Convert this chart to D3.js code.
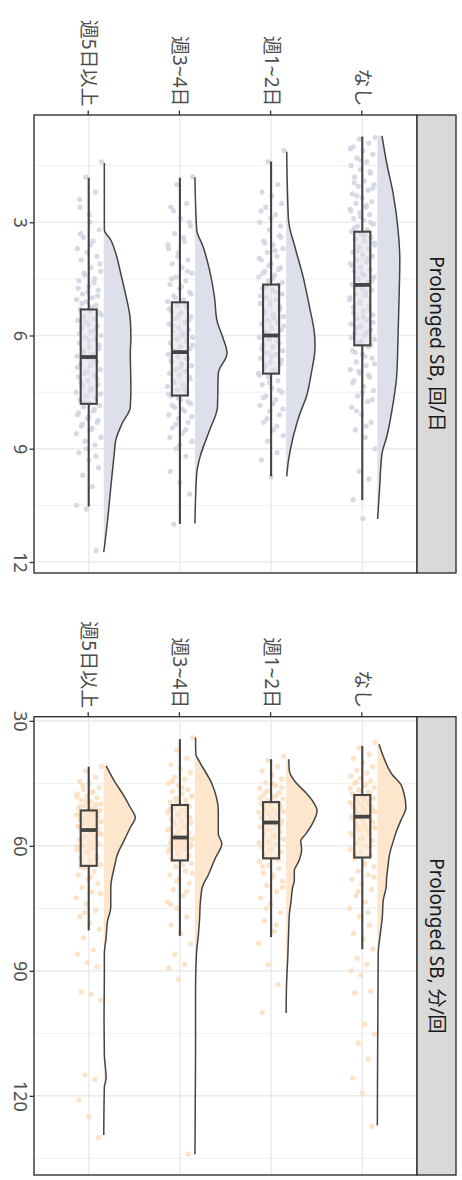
<!DOCTYPE html>
<html>
<head>
<meta charset="utf-8">
<script src="https://cdn.jsdelivr.net/npm/d3@7"></script>
<style>
  body { margin: 0; background: #fff; }
  svg { display: block; }
  text { font-family: "Noto Sans", "Noto Sans CJK JP", sans-serif; }
</style>
</head>
<body>
<script>
// ---- data -------------------------------------------------------------
const categories = ["なし", "週1~2日", "週3~4日", "週5日以上"];
const panelTitles = ["Prolonged SB, 回/日", "Prolonged SB, 分/回"];
const ticks1 = [3, 6, 9, 12];
const ticks2 = [30, 60, 90, 120];

// box statistics per category: [lower whisker, Q1, median, Q3, upper whisker]
const box1 = [
  [0.73, 3.25, 4.66, 6.26, 10.36],
  [1.39, 4.65, 6.00, 7.01, 9.73],
  [1.82, 5.12, 6.44, 7.59, 10.99],
  [1.82, 5.31, 6.57, 7.81, 10.53]
];
const box2 = [
  [36.0, 47.8, 53.0, 62.8, 84.8],
  [39.2, 49.5, 54.4, 63.0, 81.9],
  [34.4, 50.2, 58.0, 63.5, 81.6],
  [41.0, 51.5, 56.2, 64.8, 80.3]
];

// half-violin outlines: [value, relative density]
const dens1 = [
  [[0.71,0.16],[1.43,0.32],[2.23,0.54],[3.2,0.71],[4.0,0.77],[5.15,0.74],[6.04,0.71],[7.1,0.66],[7.8,0.54],[8.69,0.32],[9.13,0.16],[10.02,0.08],[10.86,0.01]],
  [[1.13,0.02],[2.94,0.08],[3.65,0.3],[4.44,0.58],[5.24,0.8],[5.95,0.97],[6.3,0.99],[7.01,0.86],[7.63,0.69],[8.07,0.47],[8.69,0.24],[9.31,0.08],[9.73,0.02]],
  [[1.81,0.0],[3.2,0.06],[3.65,0.28],[4.27,0.5],[4.98,0.67],[5.59,0.75],[6.04,0.95],[6.47,1.1],[7.0,0.8],[7.9,0.77],[8.51,0.5],[9.23,0.17],[9.65,0.06],[10.98,0.0]],
  [[1.43,0.02],[3.2,0.02],[3.47,0.24],[3.82,0.41],[4.35,0.58],[4.88,0.74],[5.59,0.91],[6.05,0.93],[6.47,0.91],[7.37,0.93],[7.9,0.91],[8.33,0.63],[8.78,0.41],[9.12,0.36],[10.03,0.24],[10.9,0.13],[11.74,0.0]]
];
const dens2 = [
  [[35.6,0.06],[38.8,0.22],[42.8,0.5],[45.2,0.8],[47.6,0.92],[50.8,0.98],[54.0,0.8],[56.4,0.66],[58.8,0.55],[62.0,0.42],[65.2,0.36],[67.6,0.32],[70,0.3],[73.2,0.2],[77.2,0.17],[81.2,0.1],[86.0,0.03],[110,0.01],[127.1,0.0]],
  [[39.2,0.09],[42.0,0.11],[44.8,0.33],[47.2,0.67],[49.6,0.94],[51.6,1.06],[54.8,0.89],[57.2,0.67],[58.8,0.5],[60.8,0.53],[63.6,0.44],[66.0,0.28],[68.4,0.28],[70.0,0.22],[73.2,0.17],[76.4,0.11],[79.7,0.09],[86.0,0.06],[94.1,0.01],[100.1,0.0]],
  [[34.0,0.02],[38.0,0.03],[39.6,0.14],[45.1,0.58],[51.6,0.8],[57.1,0.8],[59.5,0.92],[62.9,0.7],[66.8,0.47],[70.0,0.25],[74.0,0.18],[77.3,0.16],[81.2,0.12],[86,0.05],[95,0.02],[110,0.02],[134,0.0]],
  [[40.8,0.08],[44.4,0.36],[48.0,0.69],[50.8,0.91],[53.2,1.08],[55.6,0.91],[58.8,0.69],[62.0,0.47],[65.2,0.36],[70.0,0.24],[74.8,0.24],[78.0,0.13],[82.1,0.08],[86.0,0.02],[90.8,0.02],[102,0.01],[110,0.02],[115.7,0.08],[118,0.02],[129.4,0.0]]
];

// individual observations
const pts1 = [
  [0.75,0.8,0.9,1.0,1.1,1.2,1.3,1.4,1.5,1.6,1.7,1.8,1.9,2.0,2.05,2.15,2.25,2.35,2.45,2.5,2.6,2.65,2.75,2.8,2.9,2.95,3.05,3.1,3.2,3.25,3.3,3.4,3.45,3.5,3.6,3.65,3.7,3.8,3.85,3.9,4.0,4.05,4.1,4.2,4.25,4.3,4.4,4.45,4.5,4.6,4.65,4.75,4.8,4.9,4.95,5.05,5.1,5.2,5.25,5.35,5.45,5.55,5.6,5.7,5.75,5.85,5.95,6.0,6.1,6.2,6.3,6.4,6.5,6.6,6.7,6.8,6.9,7.0,7.1,7.2,7.35,7.45,7.6,7.75,7.9,8.1,8.3,8.5,8.7,9.0,9.6,9.8,10.35,10.85,
   2.1,2.3,2.55,2.7,2.85,3.0,3.15,3.35,3.55,3.75,3.95,4.15,4.35,4.55,4.7,4.85,5.0,5.15,5.3,5.4,5.5,5.65,5.8,5.9,6.05,6.15,6.25,6.45,6.55,6.75,6.95,7.05,7.25,7.5,7.7,8.0,8.4,1.05,1.35,1.65,1.95],
  [1.1,1.4,2.0,2.2,2.3,2.5,2.6,2.8,3.0,3.2,3.35,3.5,3.6,3.7,3.8,3.9,4.0,4.1,4.2,4.3,4.4,4.45,4.55,4.65,4.75,4.8,4.9,5.0,5.05,5.15,5.2,5.3,5.4,5.45,5.5,5.6,5.65,5.7,5.8,5.85,5.9,6.0,6.05,6.1,6.2,6.25,6.3,6.4,6.45,6.5,6.6,6.7,6.75,6.85,6.9,7.0,7.1,7.2,7.3,7.4,7.5,7.6,7.7,7.85,8.0,8.1,8.3,8.5,8.65,8.8,9.1,9.3,9.75,
   3.4,3.55,3.75,3.95,4.15,4.25,4.35,4.5,4.6,4.7,4.85,4.95,5.1,5.25,5.35,5.55,5.75,5.95,6.15,6.35,6.55,6.65,6.8,6.95,7.05,7.25,7.45,7.65,7.8,7.95,8.2,8.4,2.7,2.9,3.1],
  [1.8,2.0,2.5,2.6,2.9,3.1,3.3,3.5,3.7,3.8,4.0,4.1,4.2,4.35,4.45,4.55,4.65,4.75,4.85,4.95,5.05,5.1,5.2,5.25,5.35,5.4,5.5,5.55,5.65,5.7,5.8,5.85,5.9,6.0,6.05,6.1,6.15,6.2,6.3,6.35,6.4,6.45,6.5,6.55,6.6,6.7,6.75,6.8,6.9,6.95,7.0,7.05,7.1,7.2,7.3,7.35,7.45,7.5,7.6,7.7,7.8,7.9,8.0,8.1,8.2,8.3,8.45,8.6,8.8,9.0,9.2,9.6,9.9,10.2,11.0,
   3.4,3.6,3.9,4.3,4.5,4.7,4.9,5.0,5.15,5.3,5.45,5.6,5.75,5.95,6.25,6.4,6.6,6.65,6.85,7.15,7.25,7.4,7.55,7.65,7.75,7.85,7.95,8.15,8.35,8.5,8.7,8.9,3.0,2.7],
  [1.4,1.8,2.2,2.4,2.8,3.2,3.4,3.5,3.7,3.8,3.9,4.0,4.2,4.3,4.4,4.5,4.55,4.7,4.8,4.9,5.0,5.05,5.1,5.2,5.3,5.35,5.4,5.5,5.55,5.6,5.7,5.75,5.8,5.9,6.0,6.05,6.1,6.2,6.3,6.35,6.4,6.5,6.55,6.6,6.7,6.75,6.8,6.9,7.0,7.05,7.1,7.2,7.3,7.35,7.4,7.5,7.6,7.65,7.7,7.8,7.85,7.9,8.0,8.1,8.2,8.3,8.4,8.5,8.7,8.8,8.9,9.1,9.3,9.5,9.7,10.0,10.5,10.6,11.7,
   3.3,3.6,4.1,4.35,4.6,4.75,4.85,4.95,5.15,5.25,5.45,5.65,5.85,5.95,6.15,6.25,6.45,6.65,6.85,6.95,7.15,7.25,7.45,7.55,7.75,7.95,8.05,8.15,8.25,8.35,8.45,8.6,9.0,9.2,2.6,3.0]
];
const pts2 = [
  [35.2,36.5,38,39,40,41,41.8,42.5,43.2,43.8,44.4,45,45.5,46,46.5,47,47.5,48,48.4,48.8,49.2,49.6,50,50.4,50.8,51.2,51.6,52,52.5,53,53.5,54,54.5,55,55.6,56.2,56.8,57.4,58,58.7,59.4,60.1,60.8,61.5,62.3,63.1,64,65,66,67,68,69.2,70.5,72,73.5,75,77,79,81,82.4,84.8,87,88.5,90,91,94.9,95.3,102.8,105.2,107.3,111.2,115.7,119.3,127.3,
   44.7,45.2,46.2,46.8,47.2,47.8,48.2,48.6,49,49.4,49.8,50.2,50.6,51,51.4,51.8,52.2,52.8,53.3,53.8,54.3,55.3,56,57,58.3,60,62,64.5,67.5,71,76],
  [38.5,39.5,41,42,43,44,44.8,45.5,46.2,46.8,47.3,47.8,48.3,48.7,49.1,49.5,49.9,50.3,50.7,51.1,51.5,51.9,52.3,52.7,53.1,53.5,54,54.5,55,55.5,56,56.6,57.2,57.8,58.4,59,59.6,60.2,60.8,61.5,62.2,63,63.8,64.6,65.5,66.5,67.5,68.5,69.5,71,72.5,74,76,78,80.5,83.5,88.5,93.3,100,
   45,46,47,48,48.5,49.3,50,50.5,51.3,51.7,52.1,52.5,53.3,53.8,54.8,56.3,57.5,59.3,61,63.4,65,67,70,75,79],
  [34,37,39,40.5,41.5,42.5,43.5,44,45,45.5,46.5,47,47.5,48,48.5,49,49.5,50,50.5,51,51.5,52,52.5,53,53.5,54,54.5,55,55.5,56,56.5,57,57.5,58,58.3,58.7,59,59.4,59.8,60.2,60.6,61,61.5,62,62.5,63,63.5,64.2,65,66,67,68,69,70.5,72,73.5,75,77,79,81,83.5,86,88.5,89.3,92,134,
   44.5,46,48.2,49.2,50.2,51.2,52.2,53.2,54.2,55.2,56.2,57.2,58.1,58.5,59.2,59.6,60,60.4,60.8,61.3,62.3,63.2,64.6,66.5,68.5,71,74],
  [41,42,43.5,44.5,45,46,46.5,47,47.5,48,48.5,49,49.5,50,50.3,50.7,51,51.3,51.7,52,52.3,52.6,53,53.3,53.6,54,54.3,54.6,55,55.3,55.7,56,56.4,56.8,57.2,57.6,58,58.5,59,59.5,60,60.5,61,61.7,62.3,63,63.7,64.5,65.3,66.2,67,68,69,70,71,72.5,74,75.5,77,78.5,80,82,85,86,88,89,95,95.6,97,115,116,121,125,130,
   45.5,47.2,48.2,49.2,50.1,50.5,50.9,51.5,51.9,52.1,52.5,52.8,53.1,53.5,53.8,54.1,54.5,54.8,55.5,56.2,57,58.2,59.2,60.2,61.4,63.3,65,67.5,71.5,76]
];

// ---- layout (drawn on a 1180 x 462 canvas, then turned a quarter clockwise)
const W = 1180, H = 462;
const panelV = [45, 428];          // panel extent across the categories
const stripV = [6, 45];            // facet strip
const panelU = [[115, 573], [716.7, 1175]];
const INK = "#444444", BORDER = "#333333", GRID = "#ebebeb";

const panels = [
  { title: panelTitles[0], ticks: ticks1, box: box1, dens: dens1, pts: pts1,
    fill: "#dde0ea", point: "#d3d6e3" },
  { title: panelTitles[1], ticks: ticks2, box: box2, dens: dens2, pts: pts2,
    fill: "#fde6cc", point: "#fcdfc0" }
];

const svg = d3.select("body").append("svg")
  .attr("width", H).attr("height", W);
const root = svg.append("g").attr("transform", `translate(${H},0) rotate(90)`);

const y = d3.scalePoint().domain(categories).range(panelV).padding(0.6);
const step = y.step();
const nudge = step * 0.165;      // violin base offset from the box centre
const boxHalf = step * 0.088;
const jitter = step * 0.14;
const widthScale = d3.scaleLinear().domain([0, 1]).range([0, step * 0.32]);

panels.forEach((p, pi) => {
  const [u0, u1] = panelU[pi];
  const all = [].concat(...p.pts, ...p.dens.map(d => d.map(e => e[0])), ...p.box);
  const [lo, hi] = d3.extent(all);
  const pad = (hi - lo) * 0.05;
  const x = d3.scaleLinear().domain([lo - pad, hi + pad]).range([u0, u1]);

  const g = root.append("g");

  // grid
  const t = p.ticks, dt = t[1] - t[0];
  const minor = [t[0] - dt / 2, ...t.slice(1).map((v, i) => (v + t[i]) / 2), t[t.length - 1] + dt / 2]
    .filter(v => v >= x.domain()[0] && v <= x.domain()[1]);
  g.selectAll(".minor").data(minor).join("line")
    .attr("x1", d => x(d)).attr("x2", d => x(d))
    .attr("y1", panelV[0]).attr("y2", panelV[1])
    .attr("stroke", GRID).attr("stroke-width", 0.8);
  g.selectAll(".major").data(t).join("line")
    .attr("x1", d => x(d)).attr("x2", d => x(d))
    .attr("y1", panelV[0]).attr("y2", panelV[1])
    .attr("stroke", GRID).attr("stroke-width", 1.5);
  g.selectAll(".catgrid").data(categories).join("line")
    .attr("x1", u0).attr("x2", u1)
    .attr("y1", d => y(d)).attr("y2", d => y(d))
    .attr("stroke", GRID).attr("stroke-width", 1.5);

  categories.forEach((c, ci) => {
    const yc = y(c);
    // jittered observations
    g.append("g").selectAll("circle").data(p.pts[ci]).join("circle")
      .attr("cx", d => x(d))
      .attr("cy", (d, i) => yc + (((i * 0.6180339887) % 1) - 0.5) * 2 * jitter)
      .attr("r", 2.6)
      .attr("fill", p.point).attr("fill-opacity", 0.9);

    // half violin
    const base = yc - nudge;
    const area = d3.area().curve(d3.curveMonotoneX)
      .x(d => x(d[0])).y0(base).y1(d => base - widthScale(d[1]));
    const line = d3.line().curve(d3.curveMonotoneX)
      .x(d => x(d[0])).y(d => base - widthScale(d[1]));
    g.append("path").attr("d", area(p.dens[ci]))
      .attr("fill", p.fill);
    g.append("path").attr("d", line(p.dens[ci]))
      .attr("fill", "none").attr("stroke", INK).attr("stroke-width", 1.5)
      .attr("stroke-linejoin", "round");

    // box and whiskers
    const [wl, q1, md, q3, wh] = p.box[ci];
    g.append("line").attr("x1", x(wl)).attr("x2", x(q1)).attr("y1", yc).attr("y2", yc)
      .attr("stroke", INK).attr("stroke-width", 2.1);
    g.append("line").attr("x1", x(q3)).attr("x2", x(wh)).attr("y1", yc).attr("y2", yc)
      .attr("stroke", INK).attr("stroke-width", 2.1);
    g.append("rect")
      .attr("x", x(q1)).attr("width", x(q3) - x(q1))
      .attr("y", yc - boxHalf).attr("height", boxHalf * 2)
      .attr("fill", p.fill).attr("fill-opacity", 0.55)
      .attr("stroke", INK).attr("stroke-width", 2.1);
    g.append("line").attr("x1", x(md)).attr("x2", x(md))
      .attr("y1", yc - boxHalf).attr("y2", yc + boxHalf)
      .attr("stroke", INK).attr("stroke-width", 3.8);
  });

  // panel border
  g.append("rect").attr("x", u0).attr("y", panelV[0])
    .attr("width", u1 - u0).attr("height", panelV[1] - panelV[0])
    .attr("fill", "none").attr("stroke", BORDER).attr("stroke-width", 1.4);

  // strip
  g.append("rect").attr("x", u0).attr("y", stripV[0])
    .attr("width", u1 - u0).attr("height", stripV[1] - stripV[0])
    .attr("fill", "#d9d9d9").attr("stroke", BORDER).attr("stroke-width", 1.4);
  g.append("text").attr("x", (u0 + u1) / 2).attr("y", (stripV[0] + stripV[1]) / 2)
    .attr("text-anchor", "middle").attr("dominant-baseline", "central")
    .attr("font-size", 19).attr("fill", "#1a1a1a").text(p.title);

  // value axis
  const ax = g.append("g").attr("transform", `translate(0,${panelV[1]})`)
    .call(d3.axisBottom(x).tickValues(p.ticks).tickSize(4.5).tickPadding(3));
  ax.select(".domain").remove();
  ax.selectAll(".tick line").attr("stroke", BORDER).attr("stroke-width", 1.3);
  ax.selectAll(".tick text").attr("font-size", 18).attr("fill", "#4d4d4d")
    .attr("font-family", "'Noto Sans', sans-serif");

  // category axis
  const ay = g.append("g").attr("transform", `translate(${u0},0)`)
    .call(d3.axisLeft(y).tickSize(4.5).tickPadding(4));
  ay.select(".domain").remove();
  ay.selectAll(".tick line").attr("stroke", BORDER).attr("stroke-width", 1.3);
  ay.selectAll(".tick text").attr("font-size", 19).attr("fill", "#4d4d4d")
    .attr("font-family", "'Noto Sans CJK JP', sans-serif");
});
</script>
</body>
</html>
